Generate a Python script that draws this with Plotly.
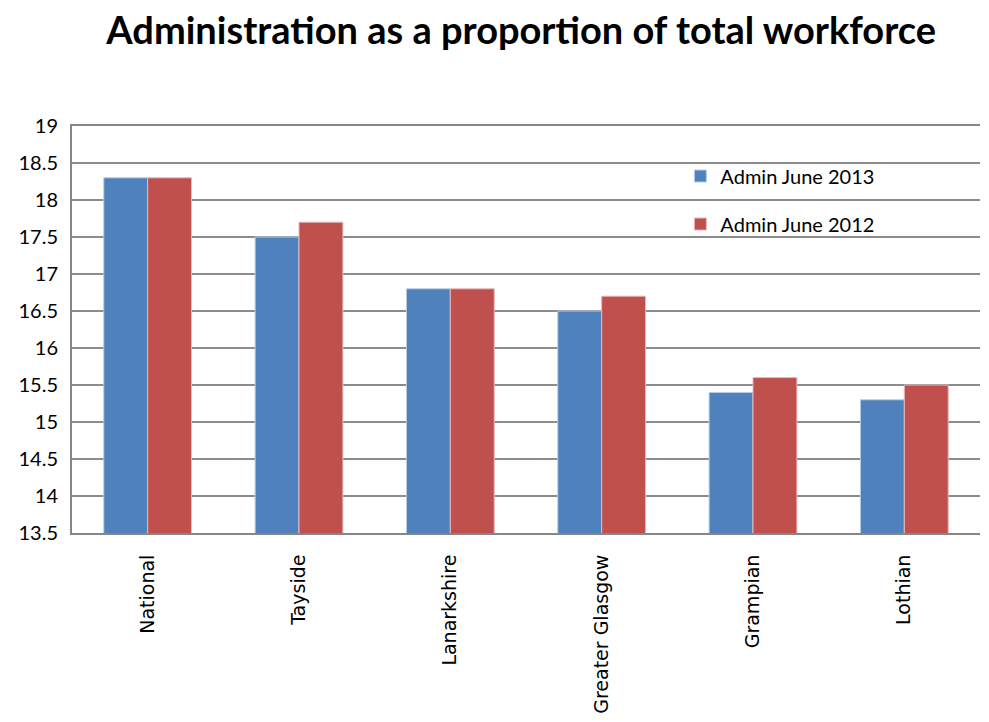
import plotly.graph_objects as go

# Health board categories and admin share of workforce (%)
regions = ["National", "Tayside", "Lanarkshire", "Greater Glasgow", "Grampian", "Lothian"]
admin_2013 = [18.3, 17.5, 16.8, 16.5, 15.4, 15.3]
admin_2012 = [18.3, 17.7, 16.8, 16.7, 15.6, 15.5]
y_ticks = [13.5, 14, 14.5, 15, 15.5, 16, 16.5, 17, 17.5, 18, 18.5, 19]

BLUE = "#4F81BD"
RED = "#C0504D"
GRID = "#8C8C8C"

fig = go.Figure()
fig.add_trace(go.Bar(
    x=regions, y=admin_2013, name="Admin June 2013",
    marker=dict(color=BLUE, line=dict(color="#B9CDE5", width=1)),
    legendgroup="a",
))
fig.add_trace(go.Bar(
    x=regions, y=admin_2012, name="Admin June 2012",
    marker=dict(color=RED, line=dict(color="#E6B9B8", width=1)),
    legendgroup="b",
))

fig.update_layout(
    width=989, height=722,
    margin=dict(l=72, r=9, t=126, b=189),
    paper_bgcolor="white", plot_bgcolor="white",
    title=dict(
        text="<b>Administration as a proportion of total workforce</b>",
        x=0.527, xanchor="center", y=0.958, yanchor="middle",
        font=dict(family="Lato, Open Sans, sans-serif", size=38, color="black"),
    ),
    barmode="group", bargap=0.42, bargroupgap=0,
    showlegend=True,
    legend=dict(
        x=0.67, y=0.925, xanchor="left", yanchor="top",
        bgcolor="rgba(0,0,0,0)",
        font=dict(family="Lato, Open Sans, sans-serif", size=20, color="black"),
        tracegroupgap=19, traceorder="grouped",
        itemwidth=30,
    ),
    xaxis=dict(
        tickangle=-90,
        tickfont=dict(family="DejaVu Sans, Verdana, sans-serif", size=19, color="black"),
        showline=True, linecolor="#868686", linewidth=2,
        mirror=True,
        ticks="", showgrid=False, ticklabelstandoff=12,
    ),
    yaxis=dict(
        range=[13.5, 19], tickvals=y_ticks,
        ticktext=[f"{v:g}" for v in y_ticks],
        tickfont=dict(family="Lato, Open Sans, sans-serif", size=20, color="black"),
        showline=True, linecolor="#868686", linewidth=2,
        showgrid=True, gridcolor=GRID, gridwidth=2,
        ticks="", ticklabelstandoff=8,
        zeroline=False,
    ),
)

fig.write_html("out.html")
